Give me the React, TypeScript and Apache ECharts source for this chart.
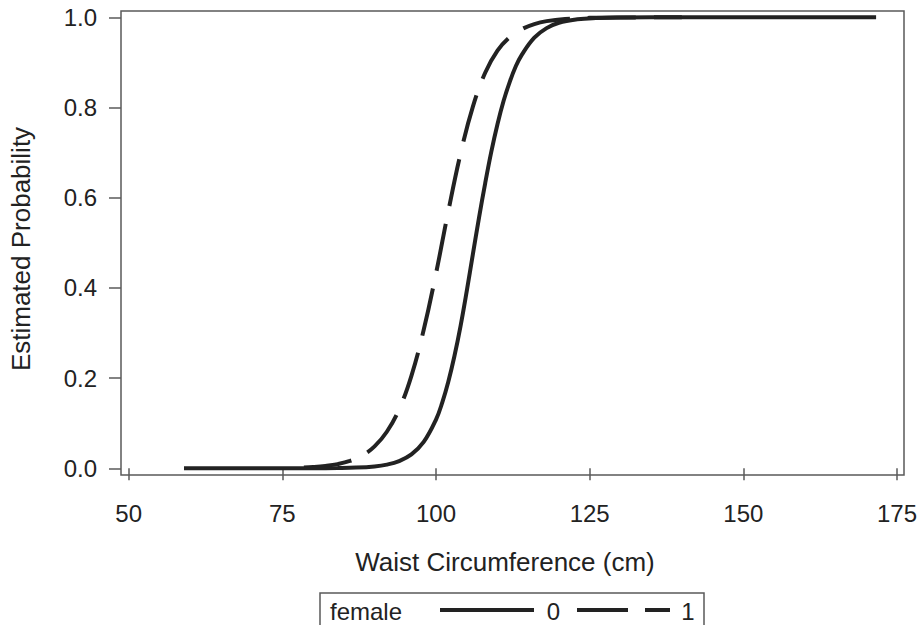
import React, { useEffect, useRef } from "react";
import * as echarts from "echarts";

const xTicks = [50, 75, 100, 125, 150, 175];
const yTicks = [0, 0.2, 0.4, 0.6, 0.8, 1.0];

// female = 0 (solid)
const maleX = [59, 65, 70, 75, 80, 84, 87, 90, 92, 94, 96, 98, 100, 101, 102, 103, 104, 105, 106, 107, 108, 109, 110, 111, 112, 113, 114, 116, 118, 120, 123, 126, 130, 140, 150, 160, 171.6];
const maleP = [0, 0, 0, 0.00003, 0.00015, 0.00057, 0.0015, 0.0042, 0.0082, 0.016, 0.0308, 0.0584, 0.108, 0.145, 0.192, 0.249, 0.316, 0.393, 0.475, 0.556, 0.632, 0.702, 0.763, 0.815, 0.857, 0.892, 0.918, 0.955, 0.976, 0.988, 0.9955, 0.9983, 0.9995, 1.0, 1.0, 1.0, 1.0];

// female = 1 (dashed)
const femaleX = [78.5, 80, 82, 84, 86, 88, 90, 92, 94, 96, 98, 100, 102, 104, 106, 108, 110, 112, 114, 116, 118, 121, 125, 130, 140];
const femaleP = [0.0018, 0.0028, 0.0052, 0.0092, 0.0162, 0.0282, 0.0485, 0.081, 0.131, 0.205, 0.307, 0.432, 0.57, 0.698, 0.802, 0.877, 0.926, 0.956, 0.974, 0.985, 0.9915, 0.9963, 0.9988, 0.9997, 1.0];

const legendTitle = "female";
const legendLabels = ["0", "1"];

const FONT = '"Liberation Sans", Arial, Helvetica, sans-serif';
const INK = "#222222";
const FRAME = "#5a5a5a";

export default function App() {
  const ref = useRef<HTMLDivElement>(null);

  useEffect(() => {
    document.body.style.margin = "0";
    if (!ref.current) return;
    const chart = echarts.init(ref.current, null, { renderer: "svg" });
    const lineY = 610;
    chart.setOption({
      animation: false,
      backgroundColor: "#ffffff",
      grid: {
        left: 121,
        right: 18,
        top: 11,
        bottom: 150,
        show: true,
        borderColor: FRAME,
        borderWidth: 1.5,
        backgroundColor: "transparent",
      },
      xAxis: {
        type: "value",
        min: 48.75,
        max: 176.14,
        axisLine: { show: false },
        splitLine: { show: false },
        axisTick: {
          show: true,
          length: 12,
          customValues: xTicks,
          lineStyle: { color: FRAME, width: 1.5 },
        },
        axisLabel: {
          customValues: xTicks,
          margin: 26,
          fontSize: 24,
          color: INK,
          fontFamily: FONT,
          formatter: (v: number) => String(v),
        },
        name: "Waist Circumference (cm)",
        nameLocation: "middle",
        nameGap: 74,
        nameTextStyle: {
          fontSize: 26,
          color: INK,
          fontFamily: FONT,
          padding: [0, 15, 0, 0],
        },
      },
      yAxis: {
        type: "value",
        min: -0.0149,
        max: 1.014,
        axisLine: { show: false },
        splitLine: { show: false },
        axisTick: {
          show: true,
          length: 12,
          customValues: yTicks,
          lineStyle: { color: FRAME, width: 1.5 },
        },
        axisLabel: {
          customValues: yTicks,
          margin: 24,
          fontSize: 24,
          color: INK,
          fontFamily: FONT,
          formatter: (v: number) => v.toFixed(1),
        },
        name: "Estimated Probability",
        nameLocation: "middle",
        nameGap: 87,
        nameTextStyle: {
          fontSize: 26,
          color: INK,
          fontFamily: FONT,
          padding: [0, 12, 0, 0],
        },
      },
      series: [
        {
          name: "1",
          type: "line",
          data: femaleX.map((x, i) => [x, femaleP[i]]),
          showSymbol: false,
          smooth: 0.4,
          lineStyle: { color: INK, width: 4, type: [48, 18] },
          z: 2,
        },
        {
          name: "0",
          type: "line",
          data: maleX.map((x, i) => [x, maleP[i]]),
          showSymbol: false,
          smooth: 0.4,
          lineStyle: { color: INK, width: 4, type: "solid" },
          z: 3,
        },
      ],
      graphic: [
        {
          type: "rect",
          shape: { x: 320, y: 593, width: 384, height: 60 },
          style: { fill: "#ffffff", stroke: FRAME, lineWidth: 1.5 },
        },
        {
          type: "text",
          x: 330,
          y: lineY + 1,
          style: {
            text: legendTitle,
            fontSize: 24,
            fontFamily: FONT,
            fill: INK,
            verticalAlign: "middle",
          },
        },
        {
          type: "line",
          shape: { x1: 440, y1: lineY, x2: 534, y2: lineY },
          style: { stroke: INK, lineWidth: 4 },
        },
        {
          type: "text",
          x: 553.5,
          y: lineY + 1,
          style: {
            text: legendLabels[0],
            fontSize: 24,
            fontFamily: FONT,
            fill: INK,
            align: "center",
            verticalAlign: "middle",
          },
        },
        {
          type: "line",
          shape: { x1: 577, y1: lineY, x2: 670, y2: lineY },
          style: { stroke: INK, lineWidth: 4, lineDash: [51, 17] },
        },
        {
          type: "text",
          x: 688,
          y: lineY + 1,
          style: {
            text: legendLabels[1],
            fontSize: 24,
            fontFamily: FONT,
            fill: INK,
            align: "center",
            verticalAlign: "middle",
          },
        },
      ],
    });
    return () => chart.dispose();
  }, []);

  return (
    <div
      ref={ref}
      style={{ width: 922, height: 625, position: "absolute", left: 0, top: 0 }}
    />
  );
}
